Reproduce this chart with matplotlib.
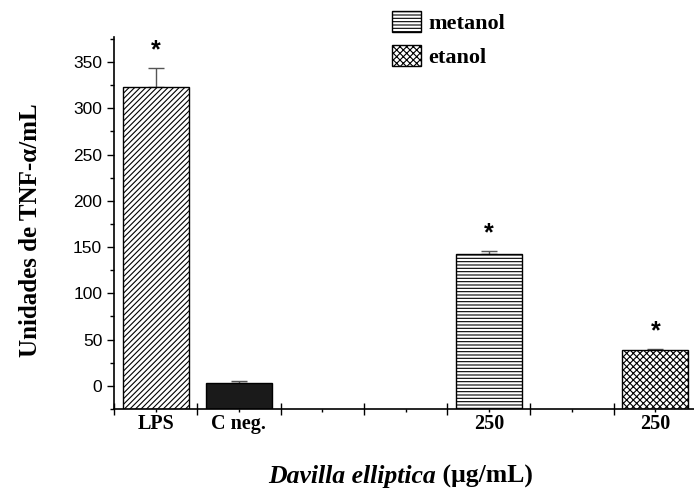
import matplotlib
matplotlib.use("Agg")
import matplotlib.pyplot as plt
from matplotlib.patches import Patch
import numpy as np

# data
groups = ["LPS", "C neg.", "250", "250"]
positions = [0.5, 1.5, 4.5, 6.5]
values = [323, 3, 143, 38.5]
errors = [21, 2, 3, 1]
hatches = ["//////", "", "-----", "xxxxx"]
facecolors = ["white", "#1a1a1a", "white", "white"]
stars = [True, False, True, True]
legend_labels = ["metanol", "etanol"]
yticks = [0, 50, 100, 150, 200, 250, 300, 350]

plt.rcParams["hatch.linewidth"] = 0.8
serif = "Liberation Serif"
sans = "Liberation Sans"

fig = plt.figure(figsize=(6.94, 4.94), dpi=100)
ax = fig.add_axes([114 / 694, 85 / 494, 583 / 694, 372 / 494])

ybot = -25
# bars start from the bottom of the axis, as in the original (Origin-style)
heights = [v - ybot for v in values]
ax.bar(positions, heights, bottom=ybot, width=0.79, color=facecolors,
       edgecolor="black", linewidth=1.0, hatch=hatches, zorder=2)
ax.errorbar(positions, values, yerr=[np.zeros(len(errors)), errors], fmt="none",
            ecolor="#555555", elinewidth=1.0, capsize=6, capthick=1.0, zorder=1)

for x, v, e, s in zip(positions, values, errors, stars):
    if s:
        ax.text(x, v + e + 6, "*", ha="center", va="bottom", fontsize=18,
                fontweight="bold", family=sans)

ax.set_xlim(0, 7)
ax.set_ylim(ybot, 377)
ax.set_yticks(yticks)
ax.set_yticks(np.arange(-25, 376, 25), minor=True)
ax.set_yticklabels([str(t) for t in yticks], family=sans, fontsize=12.5)

ax.set_xticks(np.arange(0, 8, 1))
ax.set_xticklabels([""] * 8)
ax.set_xticks(np.arange(0.5, 7, 1), minor=True)
ax.set_xticklabels([""] * 7, minor=True)
for x, lab in zip(positions, groups):
    ax.text(x, -30, lab, ha="center", va="top", fontsize=14.5, fontweight="bold",
            family=serif)

ax.tick_params(axis="y", which="major", direction="out", length=5, width=1)
ax.tick_params(axis="y", which="minor", direction="out", length=3, width=1)
ax.tick_params(axis="x", which="major", direction="inout", length=9, width=1)
ax.tick_params(axis="x", which="minor", direction="out", length=2, width=1)

for side in ["top", "right"]:
    ax.spines[side].set_visible(False)
ax.spines["left"].set_linewidth(1.2)
ax.spines["bottom"].set_linewidth(1.2)

fig.text(31 / 694, 1 - 230 / 494, "Unidades de TNF-\u03b1/mL", rotation=90,
         ha="center", va="center", fontsize=18, fontweight="bold", family=serif)

t1 = fig.text(268 / 694, 1 - 483 / 494, "Davilla elliptica", fontsize=18.5,
              fontweight="bold", style="italic", family=serif, ha="left",
              va="baseline")
ax.annotate(" (\u03bcg/mL)", xy=(1, 0), xycoords=t1, ha="left", va="bottom",
            fontsize=18.5, fontweight="bold", family=serif)

handles = [Patch(facecolor="white", edgecolor="black", hatch="-----"),
           Patch(facecolor="white", edgecolor="black", hatch="xxxxx")]
fig.legend(handles, legend_labels, loc="upper left",
           bbox_to_anchor=(392 / 694, 1 - 11 / 494), frameon=False,
           prop={"family": serif, "weight": "bold", "size": 16},
           handlelength=1.3, handleheight=1.05, handletextpad=0.35,
           labelspacing=0.5, borderpad=0, borderaxespad=0)

fig.savefig("out.png", dpi=100)
